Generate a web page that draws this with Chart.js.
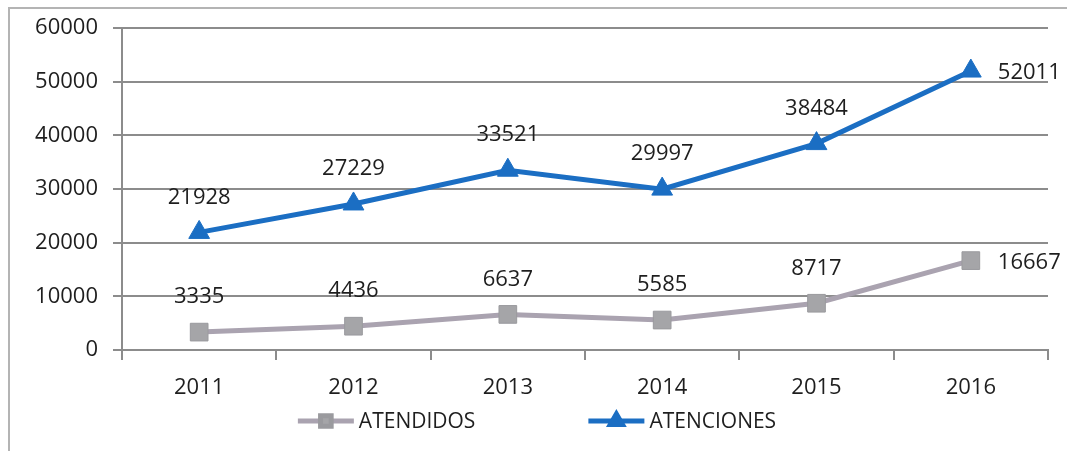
<!DOCTYPE html>
<html>
<head>
<meta charset="utf-8">
<script src="https://cdn.jsdelivr.net/npm/chart.js@4/dist/chart.umd.min.js"></script>
<style>
  html, body { margin: 0; padding: 0; background: #fff; overflow: hidden; }
  #wrap { position: relative; width: 1067px; height: 451px; }
  #frame { position: absolute; left: 8px; top: 7px; width: 1100px; height: 500px; border: 2px solid #b4b4b4; box-sizing: border-box; }
  #chart { position: absolute; left: 0; top: 0; }
</style>
</head>
<body>
<div id="wrap">
  <div id="frame"></div>
  <canvas id="chart" width="1067" height="451"></canvas>
</div>
<script>
const years = ["2011", "2012", "2013", "2014", "2015", "2016"];
const atendidos = [3335, 4436, 6637, 5585, 8717, 16667];
const atenciones = [21928, 27229, 33521, 29997, 38484, 52011];
const yTicks = [0, 10000, 20000, 30000, 40000, 50000, 60000];

const FONT = "'Open Sans', 'Liberation Sans', sans-serif";
const TEXT = "#1e1e1e";
const GRID = "#8c8c8c";

// value labels: above each point, last one to the right
const valueLabels = {
  id: "valueLabels",
  afterDatasetsDraw(chart) {
    const { ctx } = chart;
    ctx.save();
    ctx.font = `22px ${FONT}`;
    ctx.fillStyle = TEXT;
    ctx.textBaseline = "middle";
    chart.data.datasets.forEach((ds, i) => {
      const meta = chart.getDatasetMeta(i);
      meta.data.forEach((pt, j) => {
        const txt = String(ds.data[j]);
        if (j === meta.data.length - 1) {
          ctx.textAlign = "left";
          ctx.fillText(txt, pt.x + 27, pt.y + 2);
        } else {
          ctx.textAlign = "center";
          ctx.fillText(txt, pt.x, pt.y - 35);
        }
      });
    });
    ctx.restore();
  }
};

// legend drawn as line + small marker + text, spaced like the original
const lineLegend = {
  id: "lineLegend",
  afterDraw(chart) {
    const { ctx } = chart;
    const y = 421;
    const lineW = 56;
    const gap = 112;
    ctx.save();
    ctx.font = `21px ${FONT}`;
    const items = chart.data.datasets.map((ds) => ({ ds, w: lineW + 6 + ctx.measureText(ds.label).width }));
    const total = items.reduce((s, it) => s + it.w, 0) + gap * (items.length - 1);
    let x = chart.width / 2 + 4 - total / 2;
    items.forEach(({ ds, w }) => {
      ctx.strokeStyle = ds.borderColor;
      ctx.lineWidth = 5;
      ctx.beginPath();
      ctx.moveTo(x, y);
      ctx.lineTo(x + lineW, y);
      ctx.stroke();
      ctx.fillStyle = ds.pointBackgroundColor;
      ctx.strokeStyle = ds.pointBorderColor;
      Chart.helpers.drawPoint(ctx, {
        pointStyle: ds.pointStyle,
        radius: ds.pointStyle === "triangle" ? 7 : 7.5,
        borderWidth: 1
      }, x + lineW / 2, y);
      ctx.fillStyle = TEXT;
      ctx.textAlign = "left";
      ctx.textBaseline = "middle";
      ctx.fillText(ds.label, x + lineW + 5, y + 1);
      x += w + gap;
    });
    ctx.restore();
  }
};

new Chart(document.getElementById("chart"), {
  type: "line",
  data: {
    labels: years,
    datasets: [
      {
        label: "ATENDIDOS",
        data: atendidos,
        borderColor: "#aaa3b0",
        borderWidth: 5,
        pointStyle: "rect",
        pointRadius: 12.5,
        pointBackgroundColor: "#a5a5a8",
        pointBorderColor: "#9a9a9e",
        pointBorderWidth: 1,
        tension: 0
      },
      {
        label: "ATENCIONES",
        data: atenciones,
        borderColor: "#1b6ec3",
        borderWidth: 5,
        pointStyle: "triangle",
        pointRadius: 12,
        pointBackgroundColor: "#1b6ec3",
        pointBorderColor: "#1b6ec3",
        pointBorderWidth: 1,
        tension: 0
      }
    ]
  },
  options: {
    responsive: false,
    animation: false,
    layout: { padding: { top: 27, right: 19, left: 0, bottom: 0 } },
    plugins: {
      legend: { display: false },
      tooltip: { enabled: false }
    },
    scales: {
      x: {
        offset: true,
        grid: { display: true, drawOnChartArea: false, drawTicks: true, tickLength: 10, offset: true, color: GRID, lineWidth: 2 },
        border: { display: true, color: GRID, width: 2 },
        ticks: { color: TEXT, font: { family: FONT, size: 22 }, padding: 15 },
        afterFit: (s) => { s.height = 101; }
      },
      y: {
        min: 0,
        max: 60000,
        afterBuildTicks: (s) => { s.ticks = yTicks.map((v) => ({ value: v })); },
        grid: { color: GRID, lineWidth: 2, drawTicks: true, tickLength: 9 },
        border: { display: true, color: GRID, width: 2 },
        ticks: { color: TEXT, font: { family: FONT, size: 22 }, padding: 15, callback: (v) => String(v) },
        afterFit: (s) => { s.width = 122; }
      }
    }
  },
  plugins: [valueLabels, lineLegend]
});
</script>
</body>
</html>
